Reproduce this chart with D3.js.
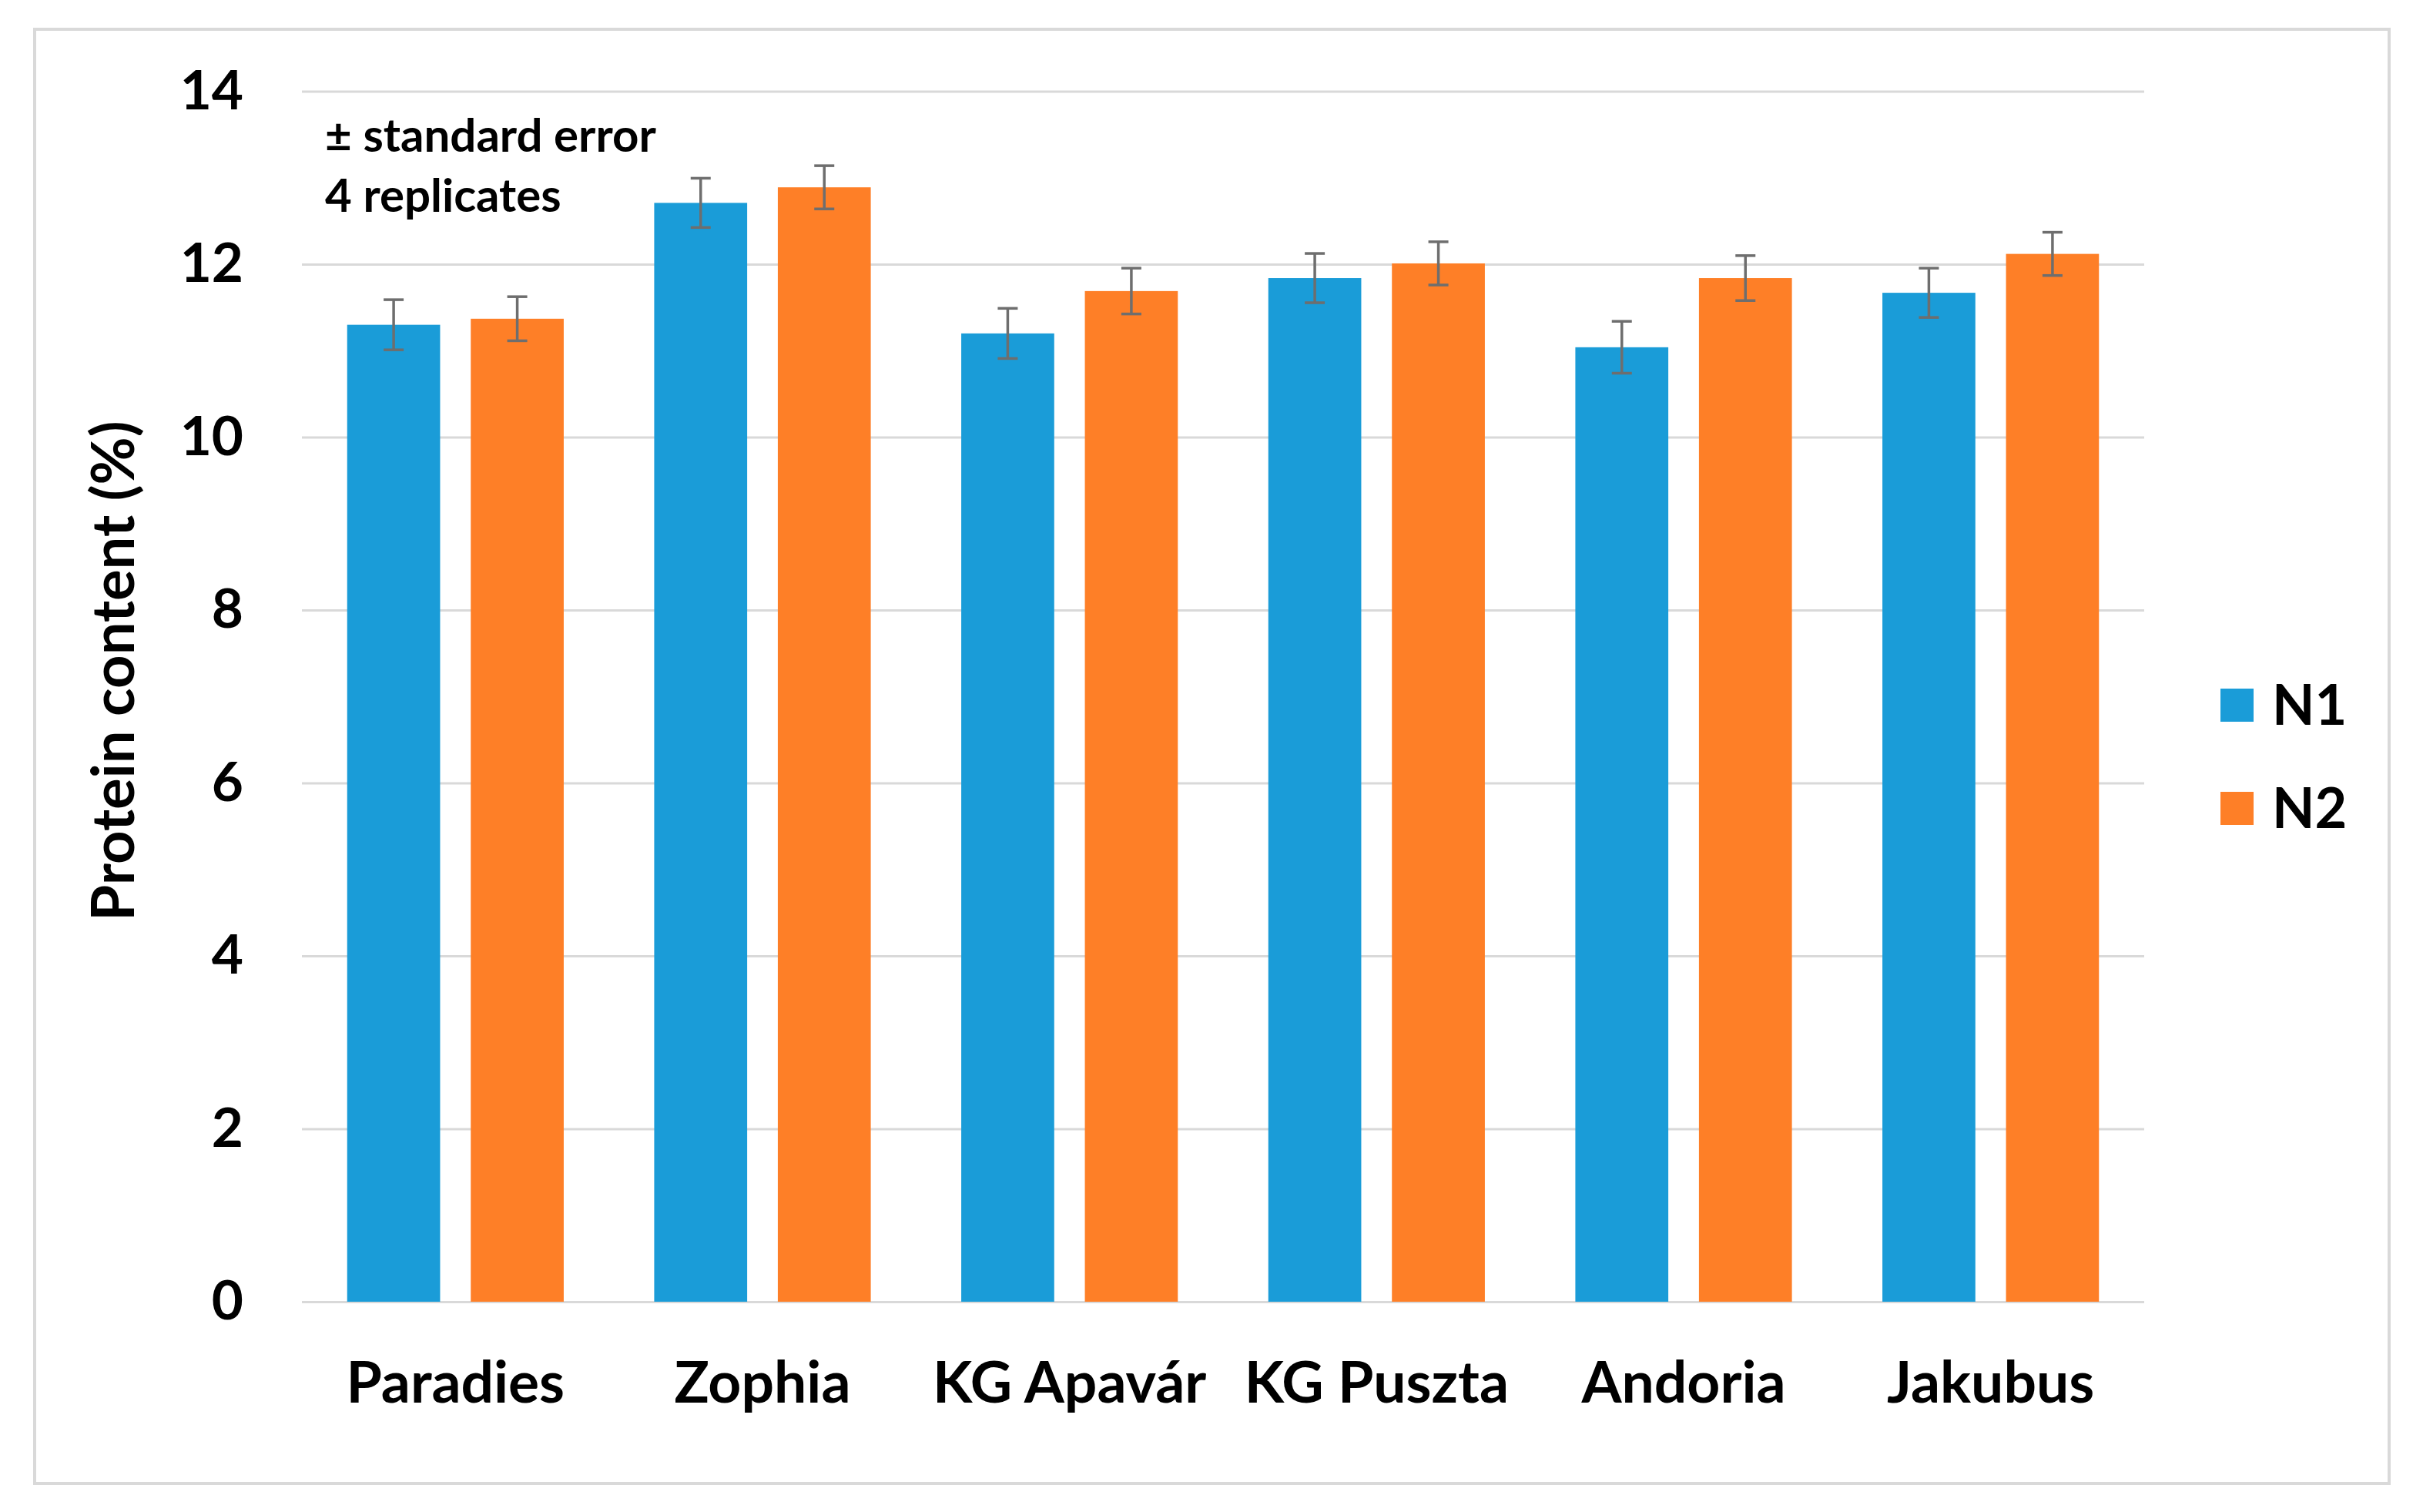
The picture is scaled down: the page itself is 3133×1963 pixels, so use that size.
<!DOCTYPE html>
<html>
<head>
<meta charset="utf-8">
<script src="https://d3js.org/d3.v7.min.js"></script>
<style>
  body { margin: 0; background: #fff; }
  text { font-family: Lato, "Open Sans", sans-serif; font-weight: bold; fill: #000; }
</style>
</head>
<body>
<svg id="chart" width="3133" height="1963"></svg>
<script>
// Cultivars on the x axis
var categories = ['Paradies', 'Zophia', 'KG Apavár', 'KG Puszta', 'Andoria', 'Jakubus'];
var seriesNames = ['N1', 'N2'];

// Protein content (%) per series
var n1Values = [11.30, 12.71, 11.20, 11.84, 11.04, 11.67];
var n2Values = [11.37, 12.89, 11.69, 12.01, 11.84, 12.12];

// Standard errors
var n1Errors = [0.29, 0.285, 0.29, 0.285, 0.30, 0.285];
var n2Errors = [0.255, 0.25, 0.265, 0.25, 0.26, 0.25];

var yTicks = [0, 2, 4, 6, 8, 10, 12, 14];
var notes = ['± standard error', '4 replicates'];

var colors = {N1: '#1a9cd8', N2: '#fe7f27'};

var svg = d3.select('#chart');

// Chart area border
svg.append('rect')
   .attr('x', 45).attr('y', 38)
   .attr('width', 3057).attr('height', 1888)
   .attr('fill', 'none')
   .attr('stroke', '#d9d9d9')
   .attr('stroke-width', 4);

var x0 = d3.scaleBand()
           .domain(categories)
           .range([392, 2784]);

var x1 = d3.scaleBand()
           .domain(seriesNames)
           .range([0, x0.bandwidth()])
           .paddingInner(0.248)
           .paddingOuter(0.366);

var y = d3.scaleLinear()
          .domain([0, 14])
          .range([1690, 118.6]);

// Gridlines + tick labels
var yAxis = svg.append('g')
               .attr('transform', 'translate(392,0)')
               .call(d3.axisLeft(y).tickValues(yTicks).tickSize(-(2784 - 392)).tickPadding(76));
yAxis.select('.domain').remove();
yAxis.selectAll('.tick line').attr('stroke', '#d9d9d9').attr('stroke-width', 3);
yAxis.selectAll('.tick text')
     .style('font-size', '71px')
     .style('font-family', 'Lato, sans-serif')
     .style('font-weight', 'bold')
     .attr('fill', '#000');

// Category labels
var xAxis = svg.append('g')
               .attr('transform', 'translate(0,1690)')
               .call(d3.axisBottom(x0).tickSize(0).tickPadding(78));
xAxis.select('.domain').remove();
xAxis.selectAll('.tick text')
     .style('font-size', '75px')
     .style('font-family', 'Lato, sans-serif')
     .style('font-weight', 'bold')
     .attr('fill', '#000');

// Flatten data for bars
var rows = [];
categories.forEach(function(c, i) {
  rows.push({cat: c, s: 'N1', v: n1Values[i], e: n1Errors[i]});
  rows.push({cat: c, s: 'N2', v: n2Values[i], e: n2Errors[i]});
});

svg.append('g').selectAll('rect')
   .data(rows)
   .enter()
   .append('rect')
   .attr('x', function(d) { return x0(d.cat) + x1(d.s); })
   .attr('y', function(d) { return y(d.v); })
   .attr('width', x1.bandwidth())
   .attr('height', function(d) { return y(0) - y(d.v); })
   .attr('fill', function(d) { return colors[d.s]; });

// Error bars
var errs = svg.append('g').selectAll('g')
              .data(rows)
              .enter()
              .append('g')
              .attr('stroke', '#6e6e6e')
              .attr('stroke-width', 3.5);
var cx = function(d) { return x0(d.cat) + x1(d.s) + x1.bandwidth() / 2; };
errs.append('line')
    .attr('x1', cx).attr('x2', cx)
    .attr('y1', function(d) { return y(d.v + d.e); })
    .attr('y2', function(d) { return y(d.v - d.e); });
errs.append('line')
    .attr('x1', function(d) { return cx(d) - 13; })
    .attr('x2', function(d) { return cx(d) + 13; })
    .attr('y1', function(d) { return y(d.v + d.e); })
    .attr('y2', function(d) { return y(d.v + d.e); });
errs.append('line')
    .attr('x1', function(d) { return cx(d) - 13; })
    .attr('x2', function(d) { return cx(d) + 13; })
    .attr('y1', function(d) { return y(d.v - d.e); })
    .attr('y2', function(d) { return y(d.v - d.e); });

// Y axis title
svg.append('text')
   .attr('transform', 'translate(174,871) rotate(-90)')
   .attr('text-anchor', 'middle')
   .style('font-size', '76px')
   .text('Protein content (%)');

// Notes
svg.selectAll('.note')
   .data(notes)
   .enter()
   .append('text')
   .attr('class', 'note')
   .attr('x', 422)
   .attr('y', function(d, i) { return 197 + i * 78; })
   .style('font-size', '60px')
   .text(function(d) { return d; });

// Legend
var legend = svg.selectAll('.legend')
                .data(seriesNames)
                .enter()
                .append('g')
                .attr('class', 'legend')
                .attr('transform', function(d, i) { return 'translate(2883,' + (894 + i * 134) + ')'; });
legend.append('rect')
      .attr('width', 43).attr('height', 43)
      .attr('fill', function(d) { return colors[d]; });
legend.append('text')
      .attr('x', 67).attr('y', 47)
      .style('font-size', '72px')
      .text(function(d) { return d; });
</script>
</body>
</html>
